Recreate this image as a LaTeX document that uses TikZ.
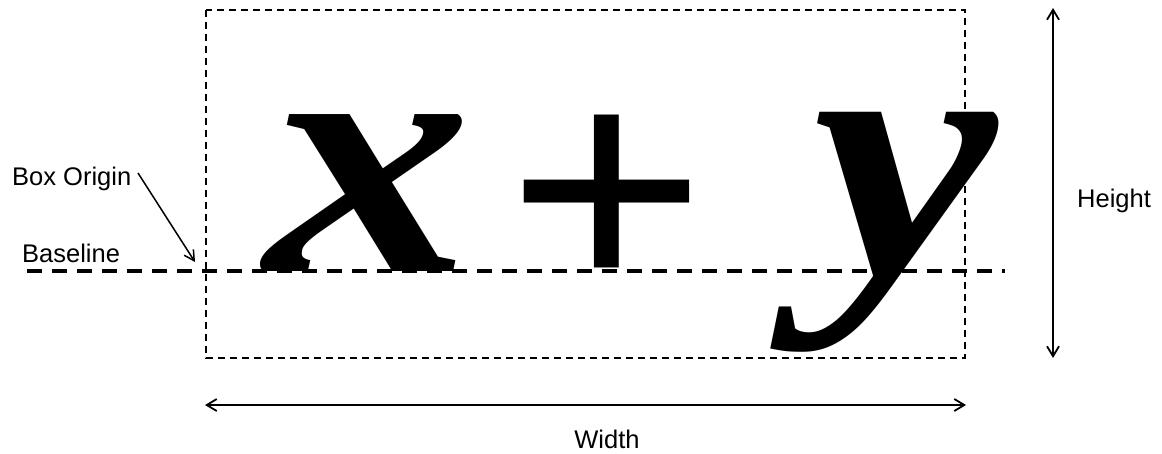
\documentclass[tikz,border=0pt]{standalone}
\usepackage{fontspec}
\setmainfont{Liberation Sans}
\newfontfamily\glyphfont{Liberation Serif}
\usetikzlibrary{arrows.meta}
\tikzset{
  lbl/.style={inner sep=0pt, font=\fontsize{25.5}{25.5}\selectfont},
  glyph/.style={inner sep=0pt, anchor=base, font=\glyphfont\fontsize{342}{342}\selectfont\bfseries},
  boxline/.style={line width=1.4pt, dash pattern=on 7pt off 5pt},
  baseline/.style={line width=3.5pt, dash pattern=on 15pt off 10pt},
  dimarrow/.style={line width=1.8pt, {Straight Barb[length=10pt,width=12pt]}-{Straight Barb[length=10pt,width=12pt]}},
  ptr/.style={line width=1.5pt, -{Straight Barb[length=10pt,width=11pt]}}
}
\begin{document}
\begin{tikzpicture}[x=1pt,y=-1pt]
\useasboundingbox (0,0) rectangle (1162,453);
% glyphs
\node[glyph] (gx) at (369,271) {\scalebox{1.21}[1]{\itshape x}};
\node[glyph] (gp) at (607,300) {\scalebox{1.04}[0.96]{+}};
\node[glyph] (gy) at (905,275) {\scalebox{1.22}[1.04]{\itshape y}};
% box
\coordinate (tl) at (206,10);
\coordinate (br) at (965,358);
\draw[boxline] (tl) rectangle (br);
% baseline
\coordinate (bl0) at (27,271);
\coordinate (bl1) at (1005,271);
\draw[baseline] (bl0) -- (bl1);
% height
\coordinate (h0) at (1053,8);
\coordinate (h1) at (1053,358);
\draw[dimarrow] (h0) -- (h1);
\node[lbl, anchor=base west] (hl) at (1077,207) {Height};
% width
\coordinate (w0) at (205,405);
\coordinate (w1) at (966,405);
\draw[dimarrow] (w0) -- (w1);
\node[lbl, anchor=base] (wl) at (607,448) {Width};
% labels
\node[lbl, anchor=base west] (bo) at (12,185) {Box Origin};
\node[lbl, anchor=base west] (bs) at (22,262) {Baseline};
\coordinate (ostart) at (138,173);
\coordinate (orig) at (195,262);
\draw[ptr] (ostart) -- (orig);
\end{tikzpicture}
\end{document}
